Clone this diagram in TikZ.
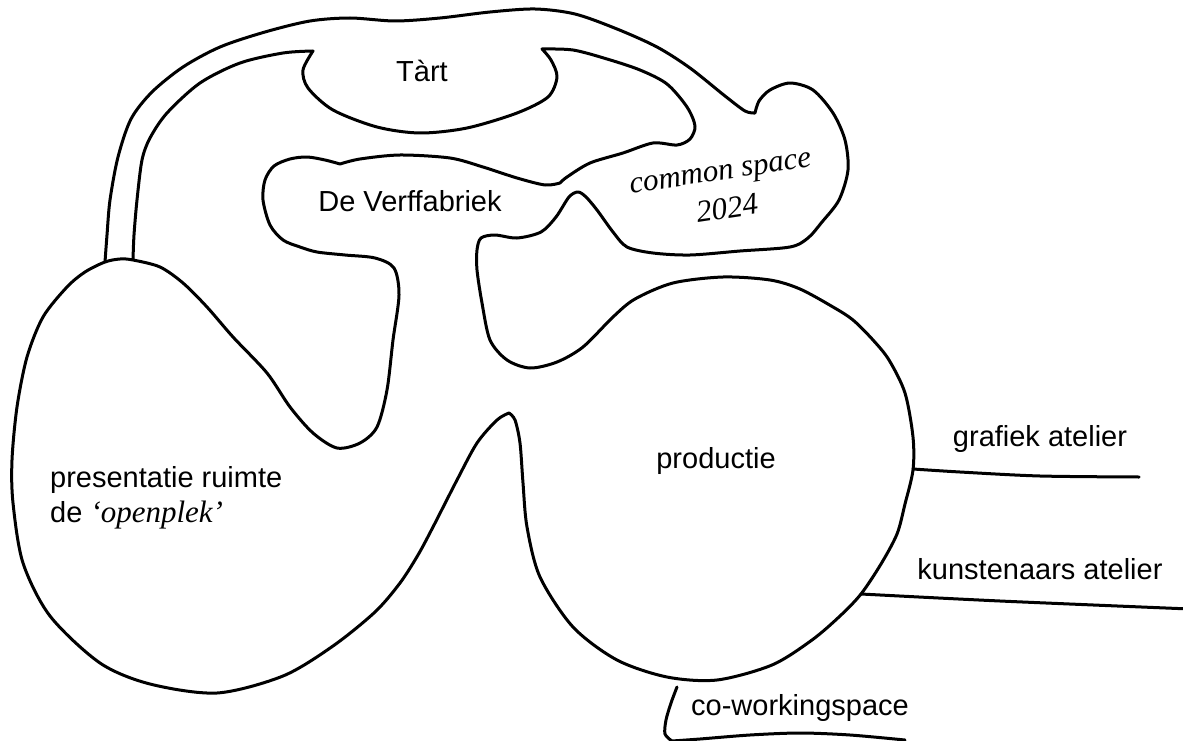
\documentclass[tikz,border=0pt]{standalone}
\usepackage{fontspec}
\setmainfont{Liberation Sans}
\newfontfamily\serifface{Liberation Serif}
\begin{document}
\begin{tikzpicture}[x=1pt,y=-1pt,
  outline/.style={line width=3pt, line join=round, line cap=round},
  lab/.style={font=\fontsize{29}{35}\selectfont, inner sep=0pt},
  serlab/.style={font=\serifface\itshape\fontsize{31}{39}\selectfont, inner sep=0pt}]
\useasboundingbox (0,0) rectangle (1183,741);
\fill[white] (0,0) rectangle (1183,741);

% main outline
\draw[outline]
  plot[smooth] coordinates {(105,262) (107,235) (110,200) (118,157) (131,119) (152,92) (183,67) (220,47) (265,32) (310,21) (350,18) (395,21) (440,18) (490,12) (535,9) (575,14) (617,29) (657,47) (690,68) (725,96) (745,111) (755,113)}
  -- plot[smooth] coordinates {(755,113) (759,101) (770,90) (790,83) (813,90) (833,113) (845,140) (848,170) (839,200) (822,222) (808,238) (790,247) (740,251) (690,255) (653,253) (627,247) (613,232) (597,210) (586,197) (578,192) (569,197) (556,217) (541,232) (517,238) (495,235) (481,238) (477,250) (477,270) (482,303) (490,340) (507,360) (530,368) (557,362) (583,347) (613,317) (635,299) (673,283) (723,277) (770,280) (800,289) (833,307) (853,320) (873,340) (889,360) (905,393) (913,437) (913,470) (905,504) (897,534) (881,564) (861,594) (840,616) (812,640) (772,665) (717,680) (667,677) (617,660) (573,627) (540,577) (527,527) (523,483) (520,443) (515,420) (509,413)}
  -- plot[smooth] coordinates {(509,413) (497,420) (477,443) (457,480) (433,527) (418,555) (400,583) (375,612) (333,646) (283,676) (217,693) (150,684) (100,663) (50,616) (23,563) (13,503) (12,460) (17,407) (27,357) (43,317) (67,287) (85,272) (105,262) (120,259) (133,260) (160,267) (183,283) (207,307) (233,337) (267,373) (290,407) (313,433) (337,448) (360,443) (377,427) (387,390) (393,340) (399,295) (394,268) (375,258) (345,255) (317,252) (300,247) (283,240) (270,225) (263,200) (265,180) (274,166) (290,159) (307,157) (325,160) (340,164)}
  -- plot[smooth] coordinates {(340,164) (360,159) (400,155) (450,158) (483,167) (517,178) (545,185) (560,183)}
  -- plot[smooth] coordinates {(560,183) (567,177) (590,163) (623,153) (653,143) (677,145) (690,139) (695,126) (687,107) (667,84) (640,70) (607,59) (573,50) (542,49)}
  -- plot[smooth] coordinates {(542,49) (551,60) (557,77) (548,97) (517,113) (467,128) (420,133) (377,127) (333,110) (308,88) (303,70) (313,51)}
  -- plot[smooth] coordinates {(313,51) (283,53) (240,63) (200,83) (167,113) (150,138) (142,160) (137,200) (134,235) (133,260)};

% side lines
\draw[outline] plot[smooth] coordinates {(913,469) (960,472) (1040,476) (1139,477)};
\draw[outline] plot[smooth] coordinates {(861,594) (1000,601) (1190,609)};
\draw[outline] plot[smooth] coordinates {(677,687) (671,703) (666,720) (665,734) (672,741)}
  -- plot[smooth] coordinates {(672,741) (700,739) (750,735) (800,733) (850,735) (905,740)};

% labels
\node[lab, anchor=base] (tart) at (422,82) {Tàrt};
\node[lab, anchor=base] (verf) at (410,211) {De Verffabriek};
\node[serlab, rotate=8.5, anchor=base] (cs1) at (721.5,180) {common space};
\node[serlab, rotate=8.5, anchor=base] (cs2) at (728.5,218) {2024};
\node[lab, anchor=base west] (pres1) at (50,487) {presentatie ruimte};
\node[lab, anchor=base west] (pres2) at (50,522) {de {\serifface\itshape\fontsize{31}{36}\selectfont ‘openplek’}};
\node[lab, anchor=base] (prod) at (716,468) {productie};
\node[lab, anchor=base] (graf) at (1040,446) {grafiek atelier};
\node[lab, anchor=base] (kunst) at (1040,579) {kunstenaars atelier};
\node[lab, anchor=base] (cowork) at (800,715) {co-workingspace};
\end{tikzpicture}
\end{document}
